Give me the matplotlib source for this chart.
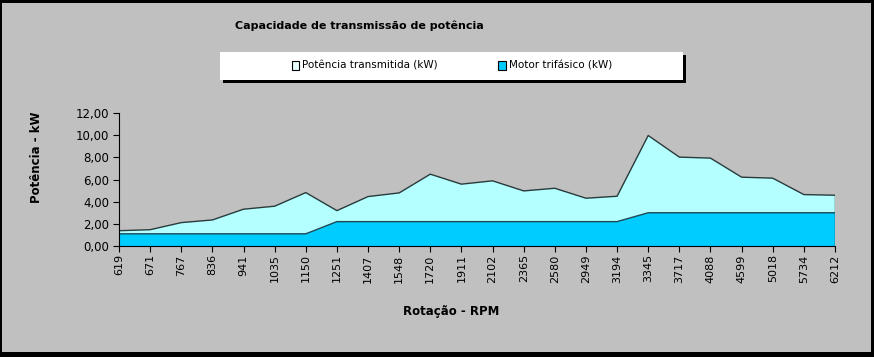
import matplotlib
matplotlib.use("Agg")
import matplotlib.pyplot as plt
from matplotlib.patches import Rectangle, Patch
import numpy as np

rpm = ["619", "671", "767", "836", "941", "1035", "1150", "1251", "1407", "1548",
       "1720", "1911", "2102", "2365", "2580", "2949", "3194", "3345", "3717",
       "4088", "4599", "5018", "5734", "6212"]
potencia_transmitida = [1.38, 1.47, 2.11, 2.35, 3.32, 3.59, 4.82, 3.19, 4.46, 4.79,
                        6.48, 5.58, 5.88, 4.97, 5.21, 4.31, 4.49, 9.97, 8.02, 7.93,
                        6.21, 6.12, 4.64, 4.58]
motor_trifasico = [1.1, 1.1, 1.1, 1.1, 1.1, 1.1, 1.1, 2.2, 2.2, 2.2, 2.2, 2.2, 2.2,
                   2.2, 2.2, 2.2, 2.2, 3.0, 3.0, 3.0, 3.0, 3.0, 3.0, 3.0]
y_ticks = [0, 2, 4, 6, 8, 10, 12]
y_tick_labels = ["0,00", "2,00", "4,00", "6,00", "8,00", "10,00", "12,00"]

W, H = 874, 357
fig = plt.figure(figsize=(W / 100, H / 100), dpi=100, facecolor="black")
# gray chart area inside black border
fig.patches.append(Rectangle((2 / W, 5 / H), 869 / W, 349 / H, transform=fig.transFigure,
                             facecolor="#c0c0c0", edgecolor="none", zorder=-5))

ax = fig.add_axes([119 / W, 1 - 246 / H, (835 - 119) / W, (246 - 113) / H])
ax.set_zorder(2)
ax.set_facecolor("none")
x = np.arange(len(rpm))
ax.fill_between(x, 0, potencia_transmitida, facecolor="#b4ffff", edgecolor="none", zorder=1)
ax.plot(x, potencia_transmitida, color="#2a3a3a", lw=1.0, zorder=3)
ax.fill_between(x, 0, motor_trifasico, facecolor="#00ccff", edgecolor="none", zorder=2)
ax.plot(x, motor_trifasico, color="#1f4a55", lw=1.0, zorder=3)
ax.plot([x[-1], x[-1]], [0, potencia_transmitida[-1]], color="#2a3a3a", lw=1.0, zorder=3)

ax.set_xlim(0, len(rpm) - 1)
ax.set_ylim(0, 12)
ax.set_xticks(x)
ax.set_xticklabels(rpm, rotation=90, fontsize=8, family="DejaVu Sans")
ax.set_yticks(y_ticks)
ax.set_yticklabels(y_tick_labels, fontsize=8.5)
ax.tick_params(axis="both", direction="out", length=4, width=0.8, colors="black")
ax.tick_params(axis="x", pad=2)
ax.tick_params(axis="y", pad=3)
for s in ["top", "right"]:
    ax.spines[s].set_visible(False)
for s in ["left", "bottom"]:
    ax.spines[s].set_linewidth(0.8)
    ax.spines[s].set_zorder(4)

fig.text(235 / W, 1 - 26 / H, "Capacidade de transmissão de potência", fontsize=8,
         fontweight="bold", ha="left", va="center")
fig.text(37 / W, 1 - 157 / H, "Potência - kW", rotation=90, fontsize=8.5,
         fontweight="bold", ha="center", va="center")
fig.text(451 / W, 1 - 312 / H, "Rotação - RPM", fontsize=8.5, fontweight="bold",
         ha="center", va="center")

# legend box with shadow
fig.patches.append(Rectangle((223 / W, 1 - 83 / H), 463 / W, 28 / H, transform=fig.transFigure,
                             facecolor="black", edgecolor="none", zorder=1))
fig.patches.append(Rectangle((220 / W, 1 - 80 / H), 463 / W, 28 / H, transform=fig.transFigure,
                             facecolor="white", edgecolor="none", zorder=2))
handles = [Patch(facecolor="#e8ffff", edgecolor="black", lw=0.8, label="Potência transmitida (kW)"),
           Patch(facecolor="#00ccff", edgecolor="black", lw=0.8, label="Motor trifásico (kW)")]
leg = fig.legend(handles=handles, loc="center", bbox_to_anchor=(452 / W, 1 - 66 / H), ncol=2,
                 frameon=False, handlelength=0.7, handleheight=0.9,
                 handletextpad=0.3, columnspacing=5.8, prop={"size": 7.5})
leg.set_zorder(5)

fig.savefig("out.png", dpi=100, facecolor="black")
